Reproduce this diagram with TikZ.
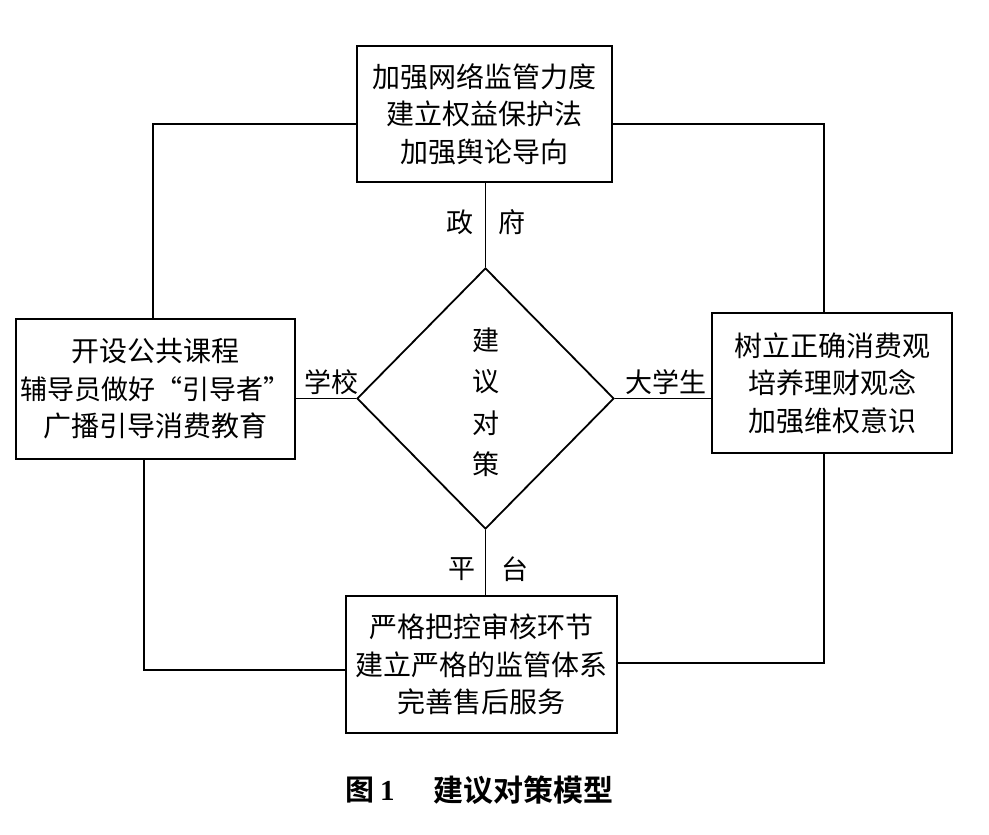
\documentclass[tikz,border=0pt]{standalone}
\usepackage{fontspec}
\setmainfont{Noto Sans CJK SC}[BoldFont={Noto Sans CJK SC Bold}]
\newfontfamily\serifnum{Liberation Serif}
\usetikzlibrary{shapes.geometric}
\tikzset{
  box/.style={draw, line width=1.8pt, rectangle, align=center, inner sep=0pt,
    font=\fontsize{28}{37.5}\selectfont},
  lbl/.style={inner sep=0pt, font=\fontsize{27}{30}\selectfont},
  conn/.style={draw, line width=1.8pt},
}
\begin{document}
\begin{tikzpicture}[x=1pt,y=-1pt]
\useasboundingbox (0,0) rectangle (989,835);
% boxes
\node[box, minimum width=255, minimum height=136] (top) at (484.5,114)
  {加强网络监管力度\\建立权益保护法\\加强舆论导向};
\node[box, minimum width=279, minimum height=140] (left) at (155.5,389)
  {开设公共课程\\{\fontsize{27}{37.5}\selectfont 辅导员做好“引导者”}\\广播引导消费教育};
\node[box, minimum width=240, minimum height=140] (right) at (832,383)
  {树立正确消费观\\培养理财观念\\加强维权意识};
\node[box, minimum width=271, minimum height=137] (bot) at (481.5,664.5)
  {严格把控审核环节\\建立严格的监管体系\\完善售后服务};
% diamond
\node[draw, diamond, line width=1.8pt, minimum width=257, minimum height=261, inner sep=0pt] (dia) at (485.5,398.5) {};
\node[lbl, align=center, font=\fontsize{27}{41.5}\selectfont] (diatext) at (486,402) {建\\议\\对\\策};
% connectors to diamond
\draw[conn] (dia.north) -- (dia.north |- top.south);
\draw[conn] (dia.south) -- (dia.south |- bot.north);
\draw[conn] (dia.west) -- (dia.west -| left.east);
\draw[conn] (dia.east) -- (dia.east -| right.west);
% outer connectors
\coordinate (tl) at (153,124);
\coordinate (tr) at (824,124);
\coordinate (bl) at (144,670);
\coordinate (br) at (824,663);
\draw[conn] (tl -| top.west) -- (tl) -- (tl |- left.north);
\draw[conn] (tr -| top.east) -- (tr) -- (tr |- right.north);
\draw[conn] (bl |- left.south) -- (bl) -- (bl -| bot.west);
\draw[conn] (br |- right.south) -- (br) -- (br -| bot.east);
% labels
\node[lbl] (zheng) at (460,222) {政};
\node[lbl] (fu) at (512,222) {府};
\node[lbl] (xuexiao) at (331,382) {学校};
\node[lbl] (dxs) at (666,382) {大学生};
\node[lbl] (ping) at (462,569) {平};
\node[lbl] (tai) at (515,569) {台};
% caption
\node[anchor=west, inner sep=0pt, font=\fontsize{29}{30}\selectfont\bfseries] (capA) at (345,790) {图\hspace{6pt}{\serifnum 1}};
\node[anchor=west, inner sep=0pt, font=\fontsize{30}{30}\selectfont\bfseries] (capB) at (433,790) {建议对策模型};
\end{tikzpicture}
\end{document}
